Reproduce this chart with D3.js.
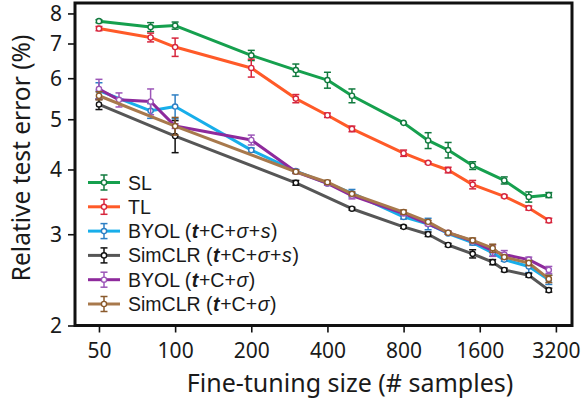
<!DOCTYPE html>
<html>
<head>
<meta charset="utf-8">
<script src="https://cdn.jsdelivr.net/npm/d3@7"></script>
<style>
  body { margin: 0; background: #fff; }
  svg text { font-family: "Noto Sans", "Open Sans", sans-serif; fill: #1a1a1a; }
  svg text.leg { font-family: "Liberation Sans", Arial, sans-serif; }
</style>
</head>
<body>
<svg id="chart" width="587" height="403"></svg>
<script>
// sample sizes (x)
const sizesTop = [50, 80, 100, 200, 300, 400, 500, 800, 1000, 1200, 1500, 2000, 2500, 3000]
const sizesByolS = [50, 80, 100, 200, 300, 400, 500, 800, 1000, 1200, 1500, 1800, 2000, 2500, 3000]
const sizesSimS = [50, 100, 300, 500, 800, 1000, 1200, 1500, 1800, 2000, 2500, 3000]
const sizesByol = [50, 60, 80, 100, 200, 300, 400, 500, 800, 1000, 1200, 1500, 1800, 2000, 2500, 3000]
const sizesSim = [50, 100, 300, 400, 500, 800, 1000, 1200, 1500, 1800, 2000, 2500, 3000]

// relative test error (%) and error bars
const slErr = [7.73, 7.53, 7.58, 6.64, 6.22, 5.95, 5.55, 4.92, 4.55, 4.36, 4.07, 3.81, 3.54, 3.57]
const slSd = [0.05, 0.15, 0.12, 0.15, 0.17, 0.21, 0.17, 0.01, 0.16, 0.15, 0.07, 0.06, 0.08, 0.04]
const tlErr = [7.48, 7.19, 6.89, 6.28, 5.48, 5.09, 4.79, 4.30, 4.12, 3.99, 3.74, 3.55, 3.37, 3.19]
const tlSd = [0.07, 0.14, 0.28, 0.25, 0.1, 0.05, 0.06, 0.06, 0.02, 0.05, 0.07, 0.02, 0.03, 0.03]
const byolSErr = [5.68, 5.19, 5.29, 4.36, 3.97, 3.76, 3.60, 3.24, 3.14, 3.01, 2.89, 2.76, 2.68, 2.60, 2.45]
const byolSSd = [0.2, 0.17, 0.28, 0.04, 0.03, 0.03, 0.06, 0.03, 0.08, 0.01, 0.03, 0.04, 0.02, 0.07, 0.05]
const simSErr = [5.34, 4.64, 3.77, 3.36, 3.10, 3.00, 2.86, 2.75, 2.65, 2.56, 2.50, 2.34]
const simSSd = [0.12, 0.33, 0.04, 0.02, 0.02, 0.03, 0.02, 0.05, 0.03, 0.02, 0.02, 0.02]
const byolErr = [5.72, 5.45, 5.41, 4.85, 4.56, 3.96, 3.76, 3.56, 3.29, 3.14, 3.02, 2.91, 2.79, 2.74, 2.68, 2.56]
const byolSd = [0.25, 0.17, 0.31, 0.05, 0.1, 0.03, 0.03, 0.05, 0.02, 0.02, 0.02, 0.02, 0.07, 0.05, 0.03, 0.04]
const simErr = [5.55, 4.85, 3.96, 3.78, 3.59, 3.31, 3.17, 3.02, 2.92, 2.82, 2.71, 2.64, 2.46]
const simSd = [0.1, 0.19, 0.03, 0.03, 0.03, 0.03, 0.02, 0.02, 0.03, 0.05, 0.02, 0.03, 0.04]

const xTicks = [50, 100, 200, 400, 800, 1600, 3200]
const yTicks = [2, 3, 4, 5, 6, 7, 8]

// legend label pieces: [text, style]
const series = [
    { x: sizesTop, y: slErr, sd: slSd, line: '#16a04e', mark: '#117a3e',
      label: [['SL', '']] },
    { x: sizesTop, y: tlErr, sd: tlSd, line: '#ff5a28', mark: '#d7263d',
      label: [['TL', '']] },
    { x: sizesByolS, y: byolSErr, sd: byolSSd, line: '#18aeea', mark: '#2d7fc4',
      label: [['BYOL (', ''], ['t', 'bi'], ['+C+', ''], ['σ', 'i'], ['+', ''], ['s', 'i'], [')', '']] },
    { x: sizesSimS, y: simSErr, sd: simSSd, line: '#565656', mark: '#111111',
      label: [['SimCLR (', ''], ['t', 'bi'], ['+C+', ''], ['σ', 'i'], ['+', ''], ['s', 'i'], [')', '']] },
    { x: sizesByol, y: byolErr, sd: byolSd, line: '#8e2a9c', mark: '#9c56b8',
      label: [['BYOL (', ''], ['t', 'bi'], ['+C+', ''], ['σ', 'i'], [')', '']] },
    { x: sizesSim, y: simErr, sd: simSd, line: '#a8794c', mark: '#8a5a2c',
      label: [['SimCLR (', ''], ['t', 'bi'], ['+C+', ''], ['σ', 'i'], [')', '']] },
]

const svg = d3.select('#chart')
const L = 75, R = 572, T = 3, B = 325.5

const x = d3.scaleLog().domain([40.2, 3705]).range([L, R])
const y = d3.scaleLog().domain([2, 8.38]).range([B, T])

// axes
const xAxis = svg.append('g')
    .attr('transform', `translate(0,${B})`)
    .call(d3.axisBottom(x).tickValues(xTicks).tickFormat(d3.format('d')).tickSize(7).tickPadding(11))
xAxis.select('.domain').remove()
xAxis.selectAll('line').attr('stroke', '#111').attr('stroke-width', 1.6)
xAxis.selectAll('text').attr('font-size', 21).attr('fill', '#1a1a1a')

const yAxis = svg.append('g')
    .attr('transform', `translate(${L},0)`)
    .call(d3.axisLeft(y).tickValues(yTicks).tickFormat(d3.format('d')).tickSize(7).tickPadding(6))
yAxis.select('.domain').remove()
yAxis.selectAll('line').attr('stroke', '#111').attr('stroke-width', 1.6)
yAxis.selectAll('text').attr('font-size', 21).attr('fill', '#1a1a1a').attr('dy', '0.34em')

// frame
svg.append('rect')
    .attr('x', L).attr('y', T)
    .attr('width', R - L).attr('height', B - T)
    .attr('fill', 'none').attr('stroke', '#111').attr('stroke-width', 3)

const line = d3.line().x(d => x(d[0])).y(d => y(d[1]))

function drawErr(g, px, v, sd, color, cap) {
    const y0 = y(v - sd), y1 = y(v + sd)
    g.append('line').attr('x1', px).attr('x2', px).attr('y1', y0).attr('y2', y1)
        .attr('stroke', color).attr('stroke-width', 1.5)
    ;[y0, y1].forEach(yy => g.append('line')
        .attr('x1', px - cap).attr('x2', px + cap).attr('y1', yy).attr('y2', yy)
        .attr('stroke', color).attr('stroke-width', 1.5))
}

series.forEach(s => {
    const g = svg.append('g')
    const pts = s.x.map((d, i) => [d, s.y[i], s.sd[i]])
    g.append('path').datum(pts).attr('d', line)
        .attr('fill', 'none').attr('stroke', s.line).attr('stroke-width', 3)
        .attr('stroke-linejoin', 'round')
    pts.forEach(p => drawErr(g, x(p[0]), p[1], p[2], s.mark, 3.5))
    g.selectAll('circle').data(pts).join('circle')
        .attr('cx', d => x(d[0])).attr('cy', d => y(d[1])).attr('r', 2.6)
        .attr('fill', '#fff').attr('stroke', s.mark).attr('stroke-width', 1.4)
})

// legend
const leg = svg.append('g')
series.forEach((s, i) => {
    const yy = 182.5 + i * 24.3
    leg.append('line').attr('x1', 88).attr('x2', 120).attr('y1', yy).attr('y2', yy)
        .attr('stroke', s.line).attr('stroke-width', 3)
    leg.append('line').attr('x1', 104).attr('x2', 104).attr('y1', yy - 7.5).attr('y2', yy + 7.5)
        .attr('stroke', s.mark).attr('stroke-width', 1.5)
    ;[yy - 7.5, yy + 7.5].forEach(c => leg.append('line')
        .attr('x1', 100.5).attr('x2', 107.5).attr('y1', c).attr('y2', c)
        .attr('stroke', s.mark).attr('stroke-width', 1.5))
    leg.append('circle').attr('cx', 104).attr('cy', yy).attr('r', 2.6)
        .attr('fill', '#fff').attr('stroke', s.mark).attr('stroke-width', 1.4)
    const t = leg.append('text').attr('class', 'leg')
        .attr('x', 128).attr('y', yy).attr('dy', '0.36em')
        .attr('font-size', 19.5)
    s.label.forEach(([txt, st], k) => {
        t.append('tspan').text(txt)
            .attr('dx', k > 0 ? 0.6 : null)
            .attr('font-style', st.includes('i') ? 'italic' : null)
            .attr('font-weight', st.includes('b') ? 'bold' : null)
    })
})

// axis titles
svg.append('text')
    .attr('transform', 'translate(30,158) rotate(-90)')
    .attr('text-anchor', 'middle')
    .attr('font-size', 24.5)
    .text('Relative test error (%)')

svg.append('text')
    .attr('x', 350).attr('y', 392)
    .attr('text-anchor', 'middle')
    .attr('font-size', 25)
    .text('Fine-tuning size (# samples)')
</script>
</body>
</html>
